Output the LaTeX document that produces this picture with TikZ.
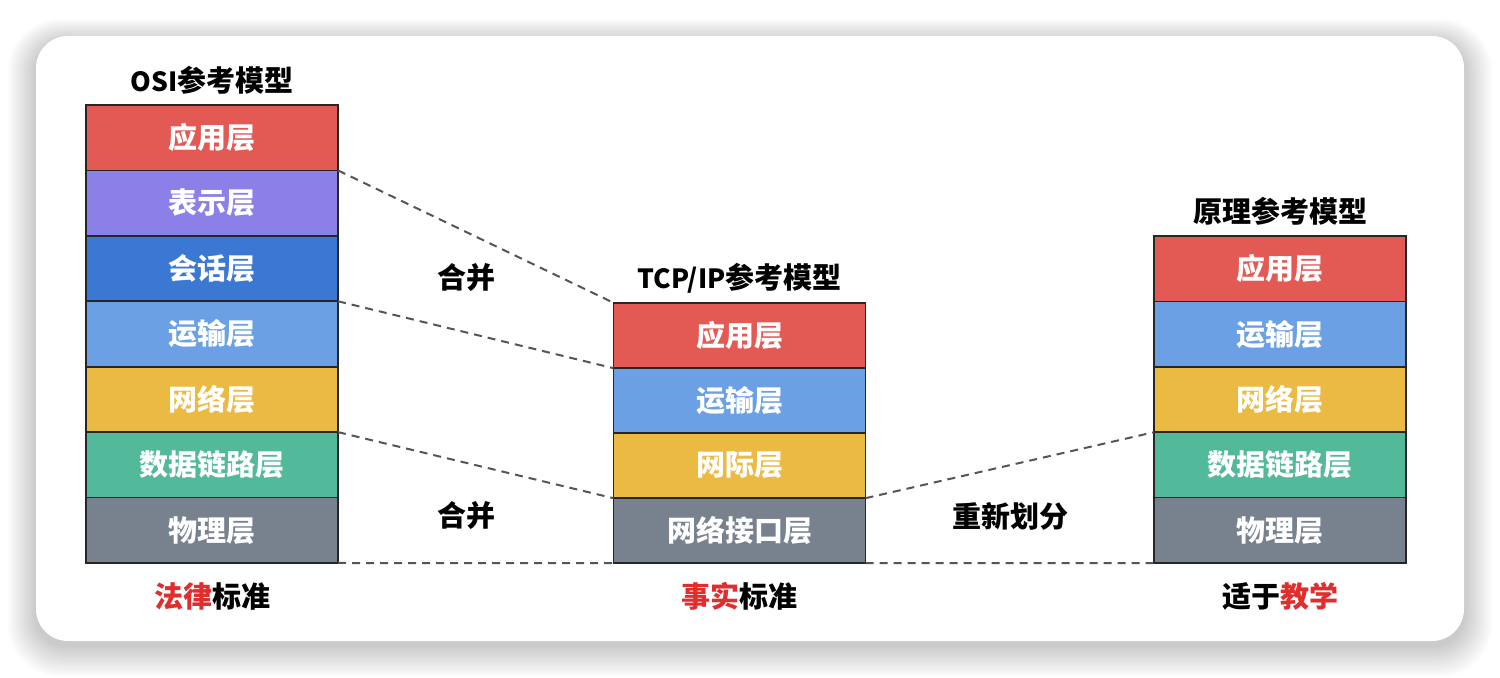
\documentclass[tikz,border=0pt]{standalone}
\usepackage{fontspec}
\newfontfamily\cjk{Noto Sans CJK SC}
\definecolor{cRed}{HTML}{E35A55}
\definecolor{cPurple}{HTML}{8B80E8}
\definecolor{cBlue}{HTML}{3A78D4}
\definecolor{cLBlue}{HTML}{6BA1E4}
\definecolor{cYellow}{HTML}{EBBA42}
\definecolor{cGreen}{HTML}{52B99A}
\definecolor{cGray}{HTML}{78818E}
\definecolor{txtRed}{HTML}{E02D2D}
\definecolor{dashcol}{HTML}{555555}
\tikzset{
  layer/.style={draw=black!85, line width=0.8pt, minimum width=126pt, minimum height=32.7pt,
    inner sep=0pt, outer sep=0pt, text=white, font=\cjk\bfseries\fontsize{14.5pt}{16pt}\selectfont},
  lbl/.style={text=black, inner sep=0pt, font=\cjk\bfseries\fontsize{14.5pt}{16pt}\selectfont},
  latin/.style={font=\cjk\bfseries\fontsize{13.8pt}{16pt}\selectfont},
  link/.style={draw=dashcol, line width=1pt, dash pattern=on 4pt off 3pt}
}
\begin{document}
\begin{tikzpicture}[x=0.5pt,y=-0.5pt]
\useasboundingbox (0,0) rectangle (1500,678);
\fill[white] (0,0) rectangle (1500,678);
% shadow
\foreach \i in {1,...,26}{
  \fill[black, opacity=0.009, rounded corners={16pt+\i*0.4pt}] ({36-\i*1.1},{42-\i*0.9}) rectangle ({1464+\i*1.1},{646+\i*1.2});
}
\fill[white, rounded corners=16pt] (36,36) rectangle (1464,641);

% OSI stack
\foreach \n/\c/\t [count=\k from 0] in {o1/cRed/应用层, o2/cPurple/表示层, o3/cBlue/会话层, o4/cLBlue/运输层, o5/cYellow/网络层, o6/cGreen/数据链路层, o7/cGray/物理层}{
  \node[layer, fill=\c] (\n) at (212, {105+32.71+65.43*\k}) {\t};
}
% TCP/IP stack
\foreach \n/\c/\t [count=\k from 0] in {t1/cRed/应用层, t2/cLBlue/运输层, t3/cYellow/网际层, t4/cGray/网络接口层}{
  \node[layer, fill=\c] (\n) at (739.5, {303+32.5+65*\k}) {\t};
}
% Principle stack
\foreach \n/\c/\t [count=\k from 0] in {p1/cRed/应用层, p2/cLBlue/运输层, p3/cYellow/网络层, p4/cGreen/数据链路层, p5/cGray/物理层}{
  \node[layer, fill=\c] (\n) at (1280, {236+32.7+65.4*\k}) {\t};
}

% titles
\node[lbl] (ot) at (212,80) {{\fontsize{13.2pt}{16pt}\selectfont OSI}参考模型};
\node[lbl] (tt) at (739.5,278) {{\fontsize{13.2pt}{16pt}\selectfont TCP/IP}参考模型};
\node[lbl] (pt) at (1280,211) {原理参考模型};

% bottom labels
\node[lbl] (ob) at (212,596) {\textcolor{txtRed}{法律}标准};
\node[lbl] (tb) at (739.5,596) {\textcolor{txtRed}{事实}标准};
\node[lbl] (pb) at (1280,596) {适于\textcolor{txtRed}{教学}};

% middle labels
\node[lbl] (m1) at (466,278) {合并};
\node[lbl] (m2) at (466,516) {合并};
\node[lbl] (m3) at (1010,516) {重新划分};

% links
\draw[link] (o1.south east) -- (t1.north west);
\draw[link] (o3.south east) -- (t1.south west);
\draw[link] (o5.south east) -- (t3.south west);
\draw[link] (o7.south east) -- (t4.south west);
\draw[link] (t3.south east) -- (p3.south west);
\draw[link] (t4.south east) -- (p5.south west);
\end{tikzpicture}
\end{document}
